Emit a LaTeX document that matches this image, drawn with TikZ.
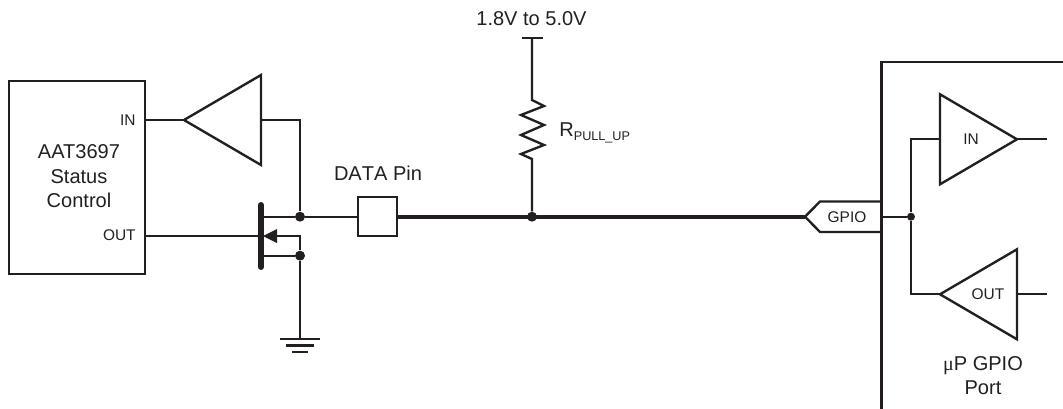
\documentclass[tikz,border=0pt]{standalone}
\usepackage{fontspec}
\setmainfont{Liberation Sans}
\newfontfamily\symfont{Liberation Serif}
\usepackage{tikz}
\usetikzlibrary{calc, shapes.geometric}
\definecolor{ink}{HTML}{231F20}
\tikzset{
    wire/.style={line width=1.35pt, ink, line join=miter},
    bus/.style={line width=2.3pt, ink},
    junction/.style={circle, fill=ink, inner sep=0pt, minimum size=0.2cm},
    block/.style={draw=ink, line width=1.35pt, inner sep=0pt},
    amp/.style={isosceles triangle, isosceles triangle stretches, draw=ink, line width=1.35pt,
        inner sep=0pt, outer sep=0pt, minimum width=1.8cm, minimum height=1.54cm},
    biglabel/.style={text=ink, font=\fontsize{11.4}{14}\selectfont, inner sep=0pt},
    smalllabel/.style={text=ink, font=\fontsize{8.8}{10}\selectfont, inner sep=0pt}
}
\begin{document}
\begin{tikzpicture}[x=0.02cm, y=-0.02cm]
                    \useasboundingbox (0,0) rectangle (1063,409);

                    \node[block, minimum width=2.72cm, minimum height=3.86cm] (status) at (77,177.5) {};
                    \node[block, minimum width=0.78cm, minimum height=0.78cm] (pin) at (377.5,216.7) {};
                    \node[amp, shape border rotate=180, anchor=apex] (ampleft) at (184,120) {};
                    \node[amp, anchor=apex] (ampin) at (1017,139.3) {};
                    \node[amp, shape border rotate=180, anchor=apex] (ampout) at (940,294.3) {};

                    \coordinate (statusin) at (145,120);
                    \coordinate (statusout) at (145,236);
                    \coordinate (gatetop) at (261,205);
                    \coordinate (gatebot) at (261,267);
                    \coordinate (gatedrain) at (261,216.7);
                    \coordinate (gatesource) at (261,255.7);
                    \coordinate (gatein) at (261,236);
                    \coordinate (rail) at (532,38);
                    \coordinate (gnd) at (300,339);
                    \coordinate (gpiotip) at (805,216.7);
                    \coordinate (portin) at (881.5,216.7);

                    \node[junction] (drain) at (300,216.7) {};
                    \node[junction] (source) at (300,255.7) {};
                    \node[junction] (pullup) at (532,216.7) {};
                    \node[junction, minimum size=0.16cm] (fork) at (911,216.7) {};

                    % left side
                    \draw[wire] (statusin) -- (ampleft.apex);
                    \draw[wire] (ampleft.lower side) -| (drain);
                    \draw[wire] (statusout) -- (gatein);
                    \draw[wire] (gatedrain) -- (drain);
                    \draw[wire] (drain) -- (pin.west);
                    \draw[line width=3.4pt, ink, line cap=round] (gatetop) -- (gatebot);
                    \draw[wire] (gatesource) -- (source);
                    \draw[wire] (277,236) -| (source);
                    \fill[ink] (263,236) -- (277,229) -- (277,243) -- cycle;
                    \draw[wire] (source) -- (gnd);
                    \draw[wire] ($(gnd)+(-20,0)$) -- ($(gnd)+(20,0)$);
                    \draw[wire] ($(gnd)+(-14,6.5)$) -- ($(gnd)+(14,6.5)$);
                    \draw[wire] ($(gnd)+(-8,13)$) -- ($(gnd)+(8,13)$);

                    % pull up
                    \draw[bus] (pin.east) -- (gpiotip);
                    \draw[wire] (522,38) -- (543,38);
                    \draw[wire] (rail) -- (532,100) -- (544,106) -- (521,115) -- (544,125) -- (521,135)
                        -- (544,145) -- (521,154) -- (532,159) -- (pullup);

                    % port
                    \draw[wire] (1063,62) -- (881.5,62) -- (881.5,409);
                    \draw[wire] (881.5,201.5) -- (820,201.5) -- (gpiotip) -- (820,232) -- (881.5,232);
                    \draw[wire] (portin) -- (fork);
                    \draw[wire] (ampin.lower side) -| (fork);
                    \draw[wire] (ampout.apex) -| (fork);
                    \draw[wire] (ampin.apex) -- (1047,139.3);
                    \draw[wire] (ampout.lower side) -- (1047,294.3);

                    \node[biglabel, align=center] (statuslabel) at (79,176.5) {AAT3697\\Status\\Control};
                    \node[smalllabel, anchor=east] (inlabel) at (136,120) {IN};
                    \node[smalllabel, anchor=east] (outlabel) at (136,235) {OUT};
                    \node[biglabel] (pinlabel) at (378,173) {\addfontfeature{Kerning=Off}DATA Pin};
                    \node[biglabel] (raillabel) at (531.5,19) {1.8V to 5.0V};
                    \node[biglabel, anchor=west] (rlabel) at (559,133) {R\raisebox{-0.35ex}{\fontsize{7.2}{9}\selectfont PULL\_UP}};
                    \node[smalllabel] (gpiolabel) at (847,217) {GPIO};
                    \node[smalllabel] (ampinlabel) at (971,139) {IN};
                    \node[smalllabel] (ampoutlabel) at (988,294) {OUT};
                    \node[biglabel, align=center] (portlabel) at (983,375.5) {{\symfont μ}P GPIO\\Port};
                \end{tikzpicture}
\end{document}
